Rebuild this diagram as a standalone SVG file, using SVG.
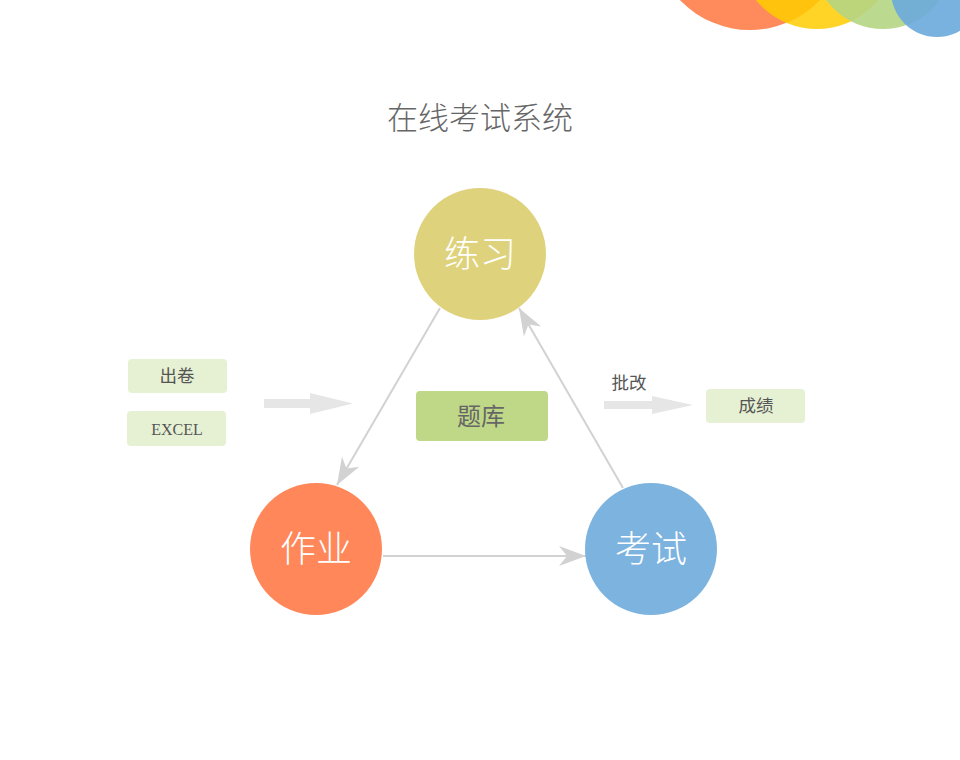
<svg xmlns="http://www.w3.org/2000/svg" width="960" height="760" viewBox="0 0 960 760">
<defs>
<style>
.cjk{font-family:"Noto Sans CJK SC","Noto Sans",sans-serif;}
.big{font-size:36px;font-weight:300;fill:#ffffff;text-anchor:middle;}
.lbl{font-size:17.5px;fill:#555555;text-anchor:middle;}
.box{fill:#E6F1D3;}
.conn{stroke:#D2D2D2;stroke-width:2;fill:none;marker-end:url(#arr);}
.blk{fill:#E6E6E6;}
</style>
<marker id="arr" markerUnits="userSpaceOnUse" markerWidth="40" markerHeight="30" viewBox="-30 -15 32 30" refX="0" refY="0" orient="auto">
<path d="M0,0 L-27,-10 L-19,0 L-27,10 Z" fill="#D2D2D2"/>
</marker>
</defs>
<rect width="960" height="760" fill="#ffffff"/>
<g id="decor">
<circle cx="750" cy="-67" r="97" fill="#FF8A5B"/>
<circle cx="817" cy="-50" r="79" fill="#FFCC00" opacity="0.85"/>
<circle cx="883" cy="-41" r="70" fill="#B5D584" opacity="0.9"/>
<circle cx="937" cy="-9" r="46" fill="#6AA8DC" opacity="0.9"/>
</g>
<g id="title"><text class="cjk" x="480" y="129" font-size="31" font-weight="300" fill="#666666" text-anchor="middle">在线考试系统</text></g>
<g id="connectors">
<line class="conn" x1="440" y1="308" x2="337" y2="485"/>
<line class="conn" x1="383" y1="556" x2="586" y2="556"/>
<line class="conn" x1="623" y1="488" x2="519" y2="308"/>
<path class="blk" d="M264,399 L310,399 L310,393 L353,403.5 L310,414 L310,408 L264,408 Z"/>
<path class="blk" d="M604,401 L652,401 L652,396 L693,405 L652,414 L652,409 L604,409 Z"/>
</g>
<g id="node-lianxi"><circle cx="480" cy="254" r="66" fill="#DFD27C"/><text class="cjk big" x="480" y="267">练习</text></g>
<g id="node-zuoye"><circle cx="316" cy="549" r="66" fill="#FF875A"/><text class="cjk big" x="316" y="562">作业</text></g>
<g id="node-kaoshi"><circle cx="651" cy="549" r="66" fill="#7DB3DF"/><text class="cjk big" x="651" y="562">考试</text></g>
<g id="node-tiku"><rect x="416" y="391" width="132" height="50" rx="4" fill="#BED887"/><text class="cjk" x="481" y="425" font-size="24" fill="#666666" text-anchor="middle">题库</text></g>
<g id="node-chujuan"><rect class="box" x="128" y="359" width="99" height="34" rx="4"/><text class="cjk lbl" x="177" y="382">出卷</text></g>
<g id="node-excel"><rect class="box" x="127" y="411" width="99" height="35" rx="4"/><text x="177" y="435" font-family="Liberation Serif,serif" font-size="16" fill="#555555" text-anchor="middle">EXCEL</text></g>
<g id="label-pigai"><text class="cjk lbl" x="629" y="389">批改</text></g>
<g id="node-chengji"><rect class="box" x="706" y="389" width="99" height="34" rx="4"/><text class="cjk lbl" x="756" y="412">成绩</text></g>
</svg>
